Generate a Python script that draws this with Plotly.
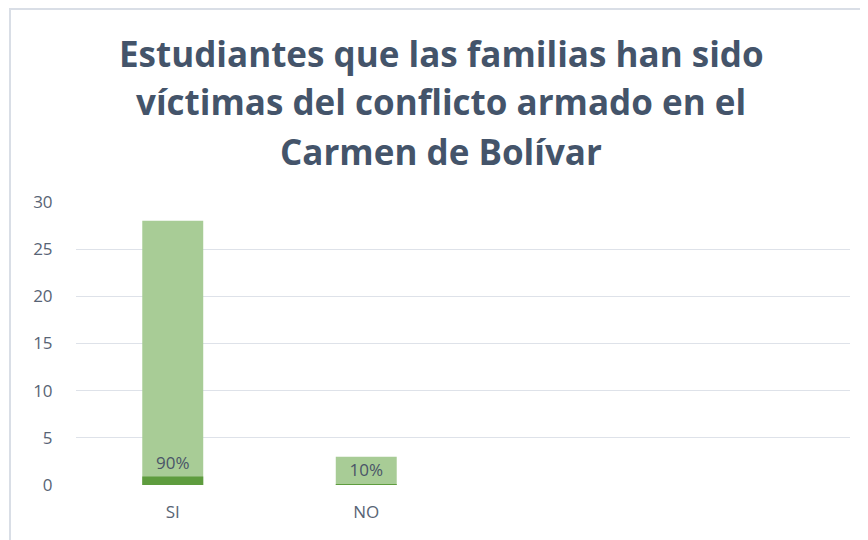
import plotly.graph_objects as go

categories = ["SI", "NO", " ", "  "]
count_values = [28, 3, None, None]
pct_values = [0.9, 0.1, None, None]
title_lines = ["Estudiantes que las familias han sido",
               "víctimas del conflicto armado en el",
               "Carmen de Bolívar"]
y_ticks = [0, 5, 10, 15, 20, 25, 30]

# page body has an 8px margin, so the figure is 8px smaller than the window
W, H = 860, 532
ml, mr, mt, mb = 68, 18, 194, 55
pw = W - ml - mr
ph = H - mt - mb


def px_x(x):
    return (x - ml) / pw


def px_y(y):
    return (H - mb - y) / ph


fig = go.Figure()
fig.add_trace(go.Bar(
    x=categories, y=count_values, width=0.315,
    marker=dict(color="#A8CC96", line=dict(width=0)),
    hoverinfo="skip", showlegend=False,
))
fig.add_trace(go.Bar(
    x=categories, y=pct_values, width=0.315,
    marker=dict(color="#5E9C3E", line=dict(width=0)),
    text=[f"{v:.0%}" if v is not None else "" for v in pct_values],
    textposition="outside", cliponaxis=False,
    textfont=dict(family="Open Sans", size=17, color="#4A5568"),
    hoverinfo="skip", showlegend=False,
))

# chart frame (light border)
fig.add_shape(type="rect", xref="paper", yref="paper",
              x0=px_x(2), x1=px_x(W + 30),
              y0=px_y(H + 30), y1=px_y(1),
              line=dict(color="#D9DEE6", width=2), fillcolor="rgba(0,0,0,0)", layer="below")

centers = [45, 94, 143]
for line, cy in zip(title_lines, centers):
    fig.add_annotation(
        text=line, xref="paper", yref="paper",
        x=px_x(433), y=px_y(cy), xanchor="center", yanchor="middle",
        showarrow=False, align="center",
        font=dict(family="Open Sans", size=35, color="#44546A", weight="bold"),
    )

fig.update_layout(
    width=W, height=H,
    margin=dict(l=ml, r=mr, t=mt, b=mb),
    paper_bgcolor="white", plot_bgcolor="white",
    barmode="overlay",
    font=dict(family="Open Sans", color="#586475"),
    xaxis=dict(range=[-0.5, 3.5], showgrid=False, zeroline=False, showline=False,
               tickfont=dict(size=17, color="#586475"),
               ticks="outside", ticklen=12, tickcolor="rgba(0,0,0,0)"),
    yaxis=dict(range=[0, 30], tickvals=y_ticks, showgrid=True, gridcolor="#DEE2E9",
               gridwidth=1, zeroline=False, showline=False,
               tickfont=dict(size=17, color="#586475"),
               ticks="outside", ticklen=19, tickcolor="rgba(0,0,0,0)"),
)

fig.write_html("out.html")
